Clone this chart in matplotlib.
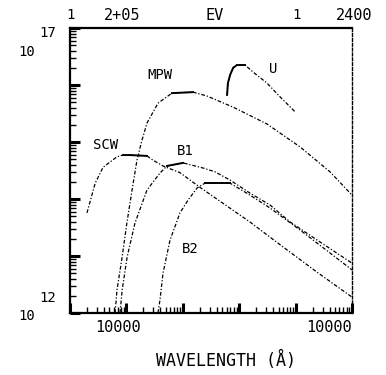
import matplotlib
matplotlib.use("Agg")
import matplotlib.pyplot as plt
from matplotlib.ticker import LogLocator, NullFormatter

# ---- data ----
mpw_wl = [0.63, 0.68, 0.84, 1.02, 1.26, 1.54, 1.89, 2.32, 3.63, 6.43, 15.2, 26.9, 77.6, 311, 1200, 4070, 10000]
mpw_flux = [1.0e12, 2.5e12, 9.6e12, 3.8e13, 1.44e14, 4.8e14, 1.08e15, 2.15e15, 4.8e15, 7.2e15, 7.5e15, 6.4e15, 4.1e15, 2.07e15, 8.2e14, 3.0e14, 1.17e14]
mpw_peak = (9, 10)

scw_wl = [0.20, 0.28, 0.385, 0.68, 0.87, 1.16, 2.32, 2.96, 4.46, 8.9, 20.2, 155, 600, 2400, 10000]
scw_flux = [5.7e13, 1.9e14, 3.6e14, 5.5e14, 5.9e14, 5.9e14, 5.7e14, 4.8e14, 3.8e14, 2.9e14, 1.6e14, 3.95e13, 1.44e13, 5.2e12, 1.9e12]
scw_peak = (4, 6)

b1_wl = [0.77, 0.84, 1.03, 1.42, 2.32, 3.94, 5.25, 10.1, 22.8, 37.2, 68.7, 155, 352, 800, 2400, 10000]
b1_flux = [1.0e12, 2.5e12, 9.6e12, 3.8e13, 1.44e14, 2.86e14, 3.8e14, 4.3e14, 3.5e14, 3.0e14, 2.15e14, 1.27e14, 7.85e13, 3.95e13, 1.91e13, 7.5e12]
b1_peak = (6, 7)

b2_wl = [3.63, 3.94, 4.46, 5.93, 8.9, 12.4, 17.9, 24.8, 68.7, 155, 352, 1200, 10000]
b2_flux = [1.0e12, 1.7e12, 5.0e12, 1.9e13, 5.7e13, 9.6e13, 1.56e14, 1.9e14, 1.9e14, 1.17e14, 6.95e13, 2.86e13, 5.7e12]
b2_peak = (7, 8)

u_wl = [61, 63, 69, 78, 91, 127, 176, 311, 530, 975]
u_flux = [6.7e15, 1.08e16, 1.5e16, 2.0e16, 2.24e16, 2.24e16, 1.69e16, 1.08e16, 6.2e15, 3.4e15]
u_peak = (0, 5)

curve_labels = ["MPW", "SCW", "B1", "B2", "U"]
label_pos_wl = [3.94, 0.42, 10.9, 13.4, 397]
label_pos_flux = [1.5e16, 8.85e14, 6.95e14, 1.33e13, 1.9e16]

x_min, x_max = 0.1, 1.0e4
y_min, y_max = 1.0e12, 1.0e17

top_labels = ["1", "2+05", "EV", "1", "2400"]
bottom_labels = ["10000", "10000"]
x_title = "WAVELENGTH (\u00c5)"

# ---- figure ----
W, H = 386, 375
fig = plt.figure(figsize=(W / 100, H / 100), dpi=100)
fig.patch.set_facecolor("white")
ax = fig.add_axes([70 / W, (H - 313) / H, 282 / W, 285 / H])
ax.set_xscale("log")
ax.set_yscale("log")
ax.set_xlim(x_min, x_max)
ax.set_ylim(y_min, y_max)

dash = (0, (3.0, 1.5, 1.0, 1.5))
curves = [
    (mpw_wl, mpw_flux, mpw_peak),
    (scw_wl, scw_flux, scw_peak),
    (b1_wl, b1_flux, b1_peak),
    (b2_wl, b2_flux, b2_peak),
    (u_wl, u_flux, u_peak),
]
for wl, fl, (i0, i1) in curves:
    ax.plot(wl, fl, color="black", lw=0.9, linestyle=dash, clip_on=True)
    ax.plot(wl[i0:i1 + 1], fl[i0:i1 + 1], color="black", lw=1.4, linestyle="-")

mono = "DejaVu Sans Mono"
for name, lx, ly in zip(curve_labels, label_pos_wl, label_pos_flux):
    ax.text(lx, ly, name, family=mono, fontsize=10, ha="center", va="center")

# spines
for s in ["left", "bottom", "top"]:
    ax.spines[s].set_linewidth(1.6)
ax.spines["right"].set_linewidth(1.0)
ax.spines["right"].set_linestyle((0, (2, 1.5)))

ax.xaxis.set_major_locator(LogLocator(base=10, numticks=10))
ax.xaxis.set_minor_locator(LogLocator(base=10, subs=range(2, 10), numticks=10))
ax.yaxis.set_major_locator(LogLocator(base=10, numticks=10))
ax.yaxis.set_minor_locator(LogLocator(base=10, subs=range(2, 10), numticks=10))
ax.xaxis.set_major_formatter(NullFormatter())
ax.xaxis.set_minor_formatter(NullFormatter())
ax.yaxis.set_major_formatter(NullFormatter())
ax.yaxis.set_minor_formatter(NullFormatter())
ax.tick_params(which="major", direction="in", length=7, width=2.2, top=False, right=False)
ax.tick_params(which="minor", direction="in", length=4.5, width=1.0, top=False, right=False)

# axis texts (pixel positions converted to figure fraction)
def fx(px):
    return px / W

def fy(py):
    return 1 - py / H

fs = 10
fig.text(fx(70), fy(15), top_labels[0], family=mono, fontsize=fs, ha="center", va="center")
fig.text(fx(122), fy(15), top_labels[1], family=mono, fontsize=fs + 1, ha="center", va="center")
fig.text(fx(215), fy(15), top_labels[2], family=mono, fontsize=fs + 1, ha="center", va="center")
fig.text(fx(297), fy(15), top_labels[3], family=mono, fontsize=fs, ha="center", va="center")
fig.text(fx(354), fy(15), top_labels[4], family=mono, fontsize=fs + 1, ha="center", va="center")

fig.text(fx(27), fy(52), "10", family=mono, fontsize=fs, ha="center", va="center")
fig.text(fx(48), fy(33), "17", family=mono, fontsize=fs, ha="center", va="center")
fig.text(fx(27), fy(316), "10", family=mono, fontsize=fs, ha="center", va="center")
fig.text(fx(48), fy(298), "12", family=mono, fontsize=fs, ha="center", va="center")

fig.text(fx(118), fy(328), bottom_labels[0], family=mono, fontsize=fs + 1, ha="center", va="center")
fig.text(fx(329), fy(328), bottom_labels[1], family=mono, fontsize=fs + 1, ha="center", va="center")
fig.text(fx(226), fy(360), x_title, family=mono, fontsize=12, ha="center", va="center")

fig.savefig("out.png", dpi=100)
